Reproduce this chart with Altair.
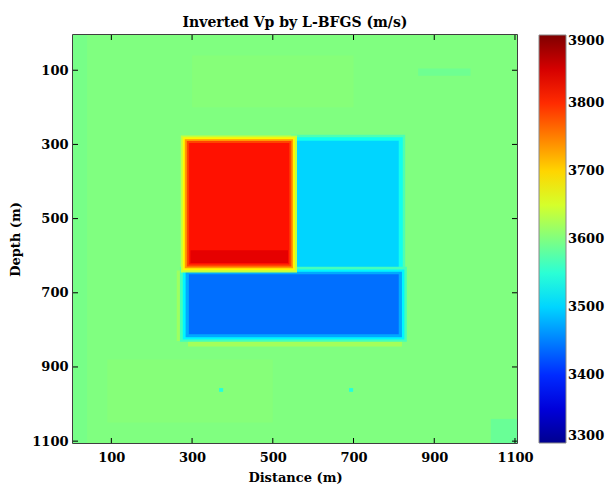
import altair as alt
import pandas as pd

# ---- data ----
# rectangles of the inverted model (metres) and their velocity (m/s), drawn in order
rect_x0 = [5,    300, 860, 90,   1040, 5,    290, 262,
           545, 552, 560,
           270, 277, 284, 292,
           272, 277, 282, 287, 292, 296,
           367, 689]
rect_x1 = [1105, 700, 990, 500,  1105, 40,   820, 280,
           828, 822, 812,
           832, 826, 820, 812,
           560, 555, 550, 546, 541, 538,
           377, 699]
rect_y0 = [5,    60,  95,  880,  1040, 5,    830, 640,
           274, 281, 290,
           630, 637, 643, 650,
           276, 281, 286, 291, 296, 585,
           957, 957]
rect_y1 = [1105, 200, 115, 1050, 1105, 1105, 845, 830,
           655, 655, 655,
           832, 826, 820, 812,
           645, 639, 634, 629, 624, 620,
           967, 967]
rect_v  = [3600, 3604, 3590, 3604, 3587, 3595, 3622, 3618,
           3570, 3535, 3500,
           3565, 3520, 3475, 3440,
           3640, 3680, 3735, 3785, 3815, 3840,
           3545, 3545]

tick_vals = [100, 300, 500, 700, 900, 1100]
cbar_vals = [3300, 3400, 3500, 3600, 3700, 3800, 3900]
jet_domain = [3300, 3375, 3525, 3675, 3825, 3900]
jet_colors = ["#00008f", "#0000ff", "#00ffff", "#ffff00", "#ff0000", "#800000"]

rects = pd.DataFrame({"x0": rect_x0, "x1": rect_x1, "y0": rect_y0, "y1": rect_y1, "v": rect_v})
ticks = pd.DataFrame({"t": tick_vals})

FONT = "DejaVu Serif"
W, H = 444, 408

txt = dict(labelFont=FONT, labelFontSize=13, labelFontWeight="bold", labelColor="black",
           titleFont=FONT, titleFontSize=13, titleFontWeight="bold", titleColor="black")

xs = alt.Scale(domain=[5, 1105], nice=False, zero=False)
ys = alt.Scale(domain=[5, 1105], nice=False, zero=False, reverse=True)
xaxis = alt.Axis(values=tick_vals, title="Distance (m)", grid=False, domain=False, format="d",
                 tickSize=0, labelPadding=8, titlePadding=7, **txt)
yaxis = alt.Axis(values=tick_vals, title="Depth (m)", grid=False, domain=False, format="d",
                 tickSize=0, labelPadding=5, titlePadding=9, **txt)

heat = alt.Chart(rects).mark_rect(strokeWidth=0).encode(
    x=alt.X("x0:Q", scale=xs, axis=xaxis),
    x2="x1:Q",
    y=alt.Y("y0:Q", scale=ys, axis=yaxis),
    y2="y1:Q",
    color=alt.Color("v:Q",
                    scale=alt.Scale(domain=jet_domain, range=jet_colors, type="linear",
                                    interpolate="rgb", clamp=True),
                    legend=alt.Legend(values=cbar_vals, title=None, orient="none", format="d",
                                      legendX=466, legendY=0, direction="vertical",
                                      gradientLength=H, gradientThickness=27,
                                      gradientStrokeColor="#888888", gradientStrokeWidth=1,
                                      labelOffset=2, labelFont=FONT, labelFontSize=13,
                                      labelFontWeight="bold", labelColor="black",
                                      labelOverlap=False, padding=0)),
)

xt_bot = alt.Chart(ticks).mark_rule(color="black", strokeWidth=1).encode(
    x=alt.X("t:Q", scale=xs, axis=xaxis), y=alt.value(H), y2=alt.value(H - 5))
xt_top = alt.Chart(ticks).mark_rule(color="black", strokeWidth=1).encode(
    x=alt.X("t:Q", scale=xs, axis=xaxis), y=alt.value(0), y2=alt.value(5))
yt_left = alt.Chart(ticks).mark_rule(color="black", strokeWidth=1).encode(
    y=alt.Y("t:Q", scale=ys, axis=yaxis), x=alt.value(0), x2=alt.value(5))
yt_right = alt.Chart(ticks).mark_rule(color="black", strokeWidth=1).encode(
    y=alt.Y("t:Q", scale=ys, axis=yaxis), x=alt.value(W), x2=alt.value(W - 5))

chart = alt.layer(heat, xt_bot, xt_top, yt_left, yt_right).properties(
    width=W, height=H,
    background="white",
    title=alt.TitleParams("Inverted Vp by L-BFGS (m/s)", font=FONT, fontSize=14,
                          fontWeight="bold", color="black", anchor="middle", offset=5),
    autosize=alt.AutoSizeParams(type="none"),
    padding={"left": 73, "top": 35, "right": 93, "bottom": 43},
).configure_view(stroke="black", strokeWidth=1.5)

chart.save("out.html", embed_options={"renderer": "svg", "actions": False})
